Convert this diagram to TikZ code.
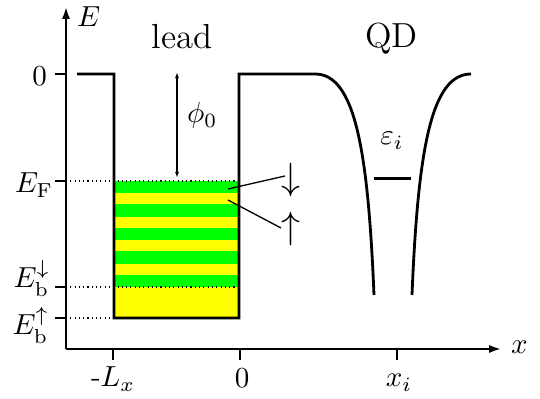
\documentclass[tikz,border=0pt]{standalone}
\usepackage{graphicx}
\usetikzlibrary{arrows.meta}
\definecolor{bandgreen}{RGB}{0,255,0}
\definecolor{bandyellow}{RGB}{255,255,0}
\tikzset{
  pot/.style={line width=0.97pt, line join=miter},
  axis/.style={line width=0.7pt, -{Latex[length=4.1pt,width=2.8pt]}},
  tick/.style={line width=0.7pt},
  dotline/.style={line width=0.38pt, dash pattern=on 0.38pt off 1.1pt},
  thin/.style={line width=0.45pt},
  lbl/.style={inner sep=0pt, outer sep=0pt},
  spin/.style={inner sep=0pt, outer sep=0pt, font=\large},
  big/.style={inner sep=0pt, outer sep=0pt, font=\large}
}
\begin{document}
\begin{tikzpicture}[x=0.3448pt,y=-0.3448pt]
\useasboundingbox (0,0) rectangle (540,399);
% band filling
\fill[bandyellow] (114,181) rectangle (239,318);
\foreach \s in {181,204.5,228,251.5,275}
  \fill[bandgreen] (114,\s) rectangle (239,\s+12.5);
% dotted levels
\draw[dotline] (66,181) -- (239,181);
\draw[dotline] (66,287) -- (239,287);
\draw[dotline] (66,318) -- (114,318);
% potential
\draw[pot] (77,74) -- (114,74) -- (114,318) -- (239,318) -- (239,74) -- (315,74)
  .. controls (355,74) and (368,150) .. (374,295);
\draw[pot] (412,295) .. controls (418,150) and (431,74) .. (471,74);
% QD level
\draw[line width=0.9pt] (374,178.5) -- (411,178.5);
% axes
\draw[axis] (66,349) -- (66,7);
\draw[axis] (66,349) -- (501,349);
% ticks
\foreach \yy in {74,181,287,318} \draw[tick] (55,\yy) -- (66,\yy);
\foreach \xx in {113,240,397} \draw[tick] (\xx,349) -- (\xx,360);
% axis labels
\node[lbl, anchor=base west] (Elab) at (77,27) {$E$};
\node[lbl, anchor=base west] (xlab) at (511,354) {$x$};
\node[lbl, anchor=base east] (zeroE) at (47,86) {0};
\node[lbl, anchor=base east] (EF) at (53,193) {$E_{\mathrm F}$};
\node[lbl, anchor=base east] (Ebd) at (50,288) {$E_{\mathrm b}^{\downarrow}$};
\node[lbl, anchor=base east] (Ebu) at (49,335) {$E_{\mathrm b}^{\uparrow}$};
\node[lbl, anchor=base] (Lx) at (113,387) {-$L_x$};
\node[lbl, anchor=base] (zeroX) at (242,388) {0};
\node[lbl, anchor=base] (xi) at (399,387) {$x_i$};
% titles
\node[big, anchor=base] (lead) at (182,49) {lead};
\node[big, anchor=base] (QD) at (391.5,48) {QD};
% phi0
\coordinate (ptop) at (177,72);
\coordinate (pbot) at (177,178);
\draw[thin, {Latex[length=2.1pt,width=1.4pt]}-{Latex[length=2.1pt,width=1.4pt]}] (ptop) -- (pbot);
\node[lbl, anchor=base west] (phi) at (187,123) {$\phi_0$};
% eps_i
\node[lbl, anchor=base] (eps) at (392,145) {$\varepsilon_i$};
% spins
\node[spin] (dn) at (291,180) {\scalebox{1.09}{$\downarrow$}};
\node[spin] (up) at (291,229.5) {\scalebox{1.09}{$\uparrow$}};
\coordinate (sd) at (228,189);
\coordinate (pd) at (285,176);
\coordinate (su) at (228,200);
\coordinate (pu) at (281,228);
\draw[thin] (sd) -- (pd);
\draw[thin] (su) -- (pu);
\end{tikzpicture}
\end{document}
